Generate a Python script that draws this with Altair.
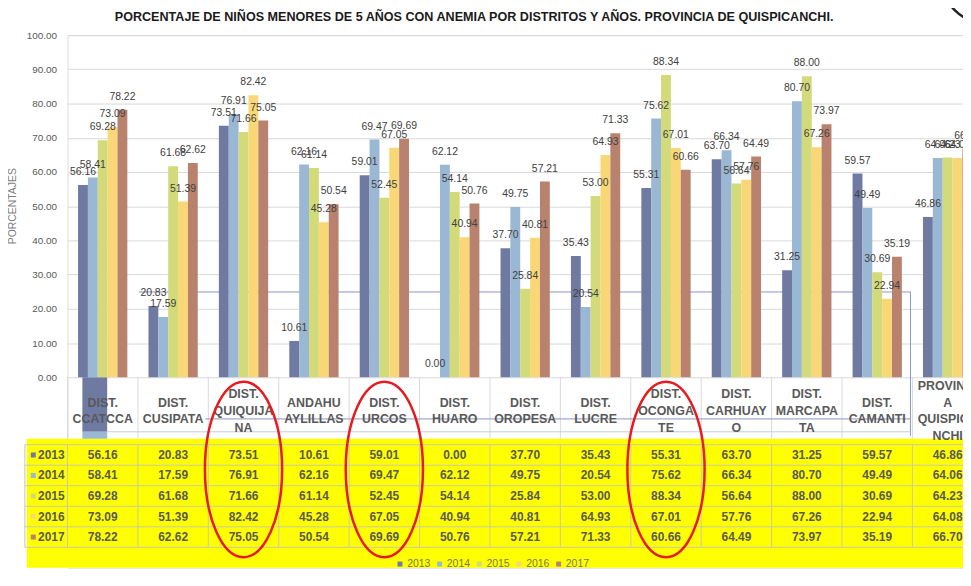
import altair as alt
import pandas as pd

FONT = "Liberation Sans"

years = ["2013", "2014", "2015", "2016", "2017"]
districts = [
    "DIST. CCATCCA", "DIST. CUSIPATA", "DIST. QUIQUIJANA", "ANDAHUAYLILLAS",
    "DIST. URCOS", "DIST. HUARO", "DIST. OROPESA", "DIST. LUCRE",
    "DIST. OCONGATE", "DIST. CARHUAYO", "DIST. MARCAPATA", "DIST. CAMANTI",
    "PROVINCIA QUISPICANCHI",
]
header_labels = [
    "DIST.|CCATCCA", "DIST.|CUSIPATA", "DIST.|QUIQUIJA|NA", "ANDAHU|AYLILLAS",
    "DIST.|URCOS", "DIST.|HUARO", "DIST.|OROPESA", "DIST.|LUCRE",
    "DIST.|OCONGA|TE", "DIST.|CARHUAY|O", "DIST.|MARCAPA|TA", "DIST.|CAMANTI",
    "PROVINCI|A|QUISPICA|NCHI",
]
v2013 = [56.16, 20.83, 73.51, 10.61, 59.01, 0.00, 37.70, 35.43, 55.31, 63.70, 31.25, 59.57, 46.86]
v2014 = [58.41, 17.59, 76.91, 62.16, 69.47, 62.12, 49.75, 20.54, 75.62, 66.34, 80.70, 49.49, 64.06]
v2015 = [69.28, 61.68, 71.66, 61.14, 52.45, 54.14, 25.84, 53.00, 88.34, 56.64, 88.00, 30.69, 64.23]
v2016 = [73.09, 51.39, 82.42, 45.28, 67.05, 40.94, 40.81, 64.93, 67.01, 57.76, 67.26, 22.94, 64.08]
v2017 = [78.22, 62.62, 75.05, 50.54, 69.69, 50.76, 57.21, 71.33, 60.66, 64.49, 73.97, 35.19, 66.70]
circled = ["DIST. QUIQUIJANA", "DIST. URCOS", "DIST. OCONGATE"]
y_ticks = [0, 10, 20, 30, 40, 50, 60, 70, 80, 90, 100]
title_text = ("PORCENTAJE DE NIÑOS MENORES DE 5 AÑOS CON ANEMIA POR DISTRITOS Y AÑOS. "
              "PROVINCIA DE QUISPICANCHI.")

colors = ["#6f7aa3", "#9ab8d4", "#d2da7a", "#fad776", "#b8826e"]

rows = []
for yr, vals in zip(years, [v2013, v2014, v2015, v2016, v2017]):
    for d, v in zip(districts, vals):
        rows.append({"district": d, "year": yr, "value": v})
df = pd.DataFrame(rows)
hdr = pd.DataFrame({"district": districts, "label": header_labels})
yrs = pd.DataFrame({"year": years})
dists = pd.DataFrame({"district": districts})
one = pd.DataFrame({"k": [0]})

W, H = 903, 537
XR = [0, 923]


def xband():
    return alt.Scale(domain=districts, range=XR, paddingInner=0.3, paddingOuter=0.15)


def xgrid():
    return alt.Scale(domain=districts, range=XR, paddingInner=0, paddingOuter=0)


def ybar():
    return alt.Scale(domain=[0, 100], range=[345, 0])


def yrow():
    return alt.Scale(domain=years, range=[413, 516.5], paddingInner=0, paddingOuter=0)


def cscale():
    return alt.Scale(domain=years, range=colors)


X = alt.X("district:N", scale=xband(), axis=None)
XOFF = alt.XOffset("year:N", scale=alt.Scale(domain=years))

yellow = alt.Chart(one).mark_rect(color="#ffff00").encode(
    x=alt.value(-41), x2=alt.value(W), y=alt.value(407), y2=alt.value(H))

vr_header = alt.Chart(dists).mark_rule(color="#d9d9d9", strokeWidth=1).encode(
    x=alt.X("district:N", scale=xgrid(), axis=None, bandPosition=0),
    y=alt.value(345), y2=alt.value(407))
vr_table = alt.Chart(dists).mark_rule(color="#c9c9a6", strokeWidth=1).encode(
    x=alt.X("district:N", scale=xgrid(), axis=None, bandPosition=0),
    y=alt.value(413), y2=alt.value(516.5))
left_border = alt.Chart(one).mark_rule(color="#c9c9a6", strokeWidth=1).encode(
    x=alt.value(-43), y=alt.value(413), y2=alt.value(516.5))
hr_table = alt.Chart(yrs).mark_rule(color="#c9c9a6", strokeWidth=1).encode(
    y=alt.Y("year:N", scale=yrow(), axis=None, bandPosition=0),
    x=alt.value(-43), x2=alt.value(W))
hr_bottom = alt.Chart(yrs).transform_filter(alt.datum.year == "2017").mark_rule(
    color="#c9c9a6", strokeWidth=1).encode(
    y=alt.Y("year:N", scale=yrow(), axis=None, bandPosition=1),
    x=alt.value(-43), x2=alt.value(W))

# stray artefacts of the original picture
art_dark = alt.Chart(one).mark_rect(color="#6f7aa3").encode(
    x=alt.value(15), x2=alt.value(40), y=alt.value(345), y2=alt.value(400))
art_light = alt.Chart(one).mark_rect(color="#9ab8d4").encode(
    x=alt.value(15), x2=alt.value(40), y=alt.value(400), y2=alt.value(407))
art_top = alt.Chart(one).mark_rule(color="#8a94c4", strokeWidth=1).encode(
    x=alt.value(72), x2=alt.value(850), y=alt.value(259))
art_side = alt.Chart(one).mark_rule(color="#8a94c4", strokeWidth=1).encode(
    x=alt.value(850), y=alt.value(259), y2=alt.value(404))
art_hdr = alt.Chart(one).mark_rule(color="#8a94c4", strokeWidth=1).encode(
    x=alt.value(139), x2=alt.value(850), y=alt.value(387))
art_hdr2 = alt.Chart(one).mark_rule(color="#c5cde0", strokeWidth=1).encode(
    x=alt.value(40), x2=alt.value(850), y=alt.value(400))

bars = alt.Chart(df).mark_bar(clip=True).encode(
    x=X, xOffset=XOFF,
    y=alt.Y("value:Q", scale=ybar(),
            axis=alt.Axis(values=y_ticks, format=".2f", grid=True, gridColor="#d9d9d9",
                          domain=False, ticks=False, tickSize=0, labelPadding=11,
                          labelFontSize=10, labelColor="#595959", labelFont=FONT,
                          title="PORCENTAJES", titleFontSize=10.5, titleFontWeight="normal",
                          titleColor="#808080", titleFont=FONT, titleX=-55, titleY=172,
                          titleAngle=270, titleAlign="center", titleBaseline="middle")),
    color=alt.Color("year:N", scale=cscale(),
                    legend=alt.Legend(title=None, orient="none", legendX=330, legendY=528,
                                      direction="horizontal", columns=5, symbolType="square",
                                      symbolSize=25, symbolStrokeWidth=0, labelFontSize=10.5,
                                      labelColor="#7a7a5a", labelFont=FONT, labelOffset=2,
                                      columnPadding=4, padding=0)),
)

bar_labels = alt.Chart(df).mark_text(clip=True, dy=-13, baseline="middle", fontSize=10.5,
                                     color="#404040", font=FONT).encode(
    x=X, xOffset=XOFF,
    y=alt.Y("value:Q", scale=ybar(), axis=None),
    text=alt.Text("value:Q", format=".2f"))

# header: first line placed so that every wrapped label is centred vertically
header = alt.Chart(hdr).transform_calculate(
    nlines="length(split(datum.label, '|'))"
).mark_text(clip=True, lineBreak="|", baseline="middle", lineHeight=17,
            fontSize=12.5, fontWeight="bold", color="#595959", font=FONT).encode(
    x=X,
    y=alt.Y("nlines:O", scale=alt.Scale(type="point", domain=[2, 3, 4],
                                        range=[370.5, 353.5], padding=0), axis=None),
    text="label:N")

table_vals = alt.Chart(df).mark_text(clip=True, baseline="middle", fontSize=12,
                                     fontWeight="bold", color="#595959", font=FONT).encode(
    x=X, y=alt.Y("year:N", scale=yrow(), axis=None),
    text=alt.Text("value:Q", format=".2f"))

row_labels = alt.Chart(yrs).mark_text(align="right", baseline="middle", fontSize=12,
                                      fontWeight="bold", color="#595959", font=FONT).encode(
    x=alt.value(-3), y=alt.Y("year:N", scale=yrow(), axis=None), text="year:N")

row_keys = alt.Chart(yrs).mark_point(shape="square", filled=True, size=25, opacity=1).encode(
    x=alt.value(-34.5), y=alt.Y("year:N", scale=yrow(), axis=None),
    color=alt.Color("year:N", scale=cscale(), legend=None))

ellipses = alt.Chart(pd.DataFrame({"district": circled})).mark_point(
    shape="M0,-1A0.44,1 0 1,1 0,1A0.44,1 0 1,1 0,-1Z", size=31329, filled=False,
    color="#e8191f", strokeWidth=2.5, opacity=1).encode(
    x=X, y=alt.value(438))

corner = alt.Chart(one).mark_point(shape="circle", size=7238, filled=False, color="#222222",
                                   strokeWidth=2.5, opacity=1).encode(
    x=alt.value(925), y=alt.value(-55))

title = alt.Chart(one).mark_text(text=title_text, fontSize=12.7, fontWeight="bold",
                                 color="#1a1a1a", baseline="middle", align="center",
                                 font=FONT).encode(
    x=alt.value(410), y=alt.value(-18))

chart = alt.layer(
    yellow, vr_header, vr_table, left_border, hr_table, hr_bottom,
    art_dark, art_light, art_top, art_side, art_hdr, art_hdr2,
    bars, bar_labels, header, table_vals, row_labels, row_keys,
    ellipses, corner, title,
).resolve_scale(y="independent", x="independent").properties(
    width=W, height=H,
    padding={"left": 60, "top": 25, "right": 0, "bottom": 0},
    autosize=alt.AutoSizeParams(type="none"),
).configure_view(stroke=None).configure(font=FONT)

chart.save("out.html", embed_options={"renderer": "svg", "actions": False})
